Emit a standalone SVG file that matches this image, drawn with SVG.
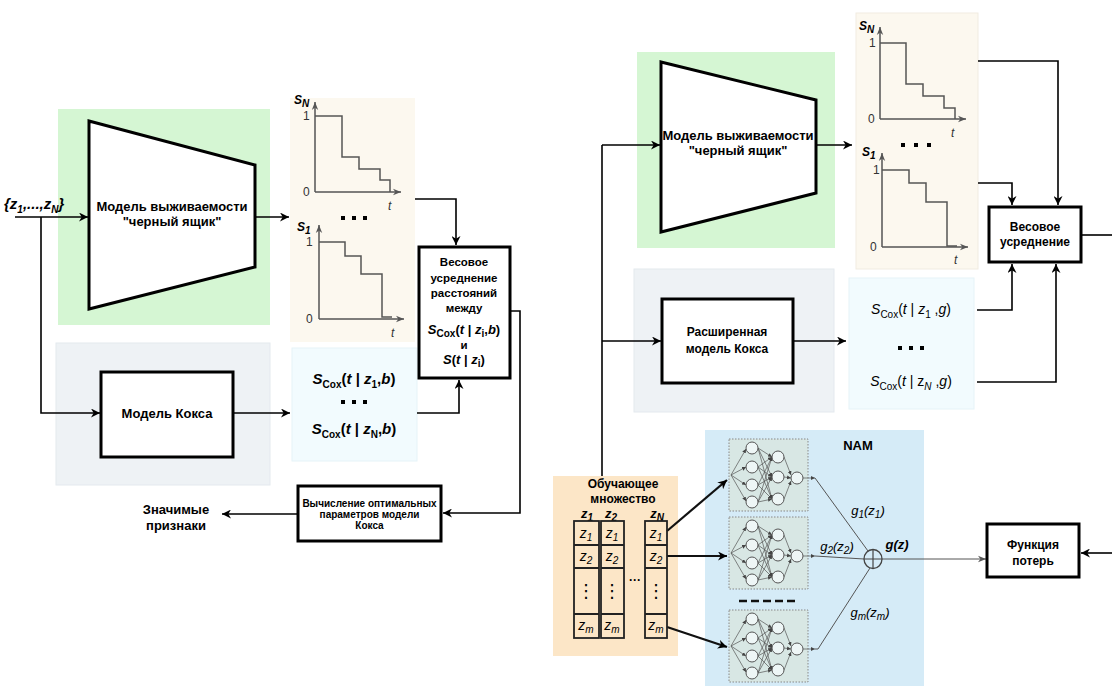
<svg xmlns="http://www.w3.org/2000/svg" xmlns:xlink="http://www.w3.org/1999/xlink" width="1112" height="686" viewBox="0 0 1112 686">
<style>
text{font-family:"Liberation Sans",Arial,sans-serif;fill:#000}
.b{font-weight:bold}
.i{font-style:italic}
.t13{font-size:13px}
.t12{font-size:12px}
.t11{font-size:11.5px}
.t10{font-size:10px}
.c{text-anchor:middle}
.sub{font-size:10px}
.box{fill:#fff;stroke:#000;stroke-width:3}
.trap{fill:#fff;stroke:#000;stroke-width:3;stroke-linejoin:miter}
.conn{fill:none;stroke:#000;stroke-width:1.6;marker-end:url(#arr)}
.line{fill:none;stroke:#000;stroke-width:1.6}
.thick{fill:none;stroke:#111;stroke-width:2.2;marker-end:url(#arr)}
.axis{fill:none;stroke:#555;stroke-width:1.5;marker-end:url(#parr)}
.step{fill:none;stroke:#555;stroke-width:1.5}
.dot{fill:#000}
.nnbox{fill:#d8e7e4;stroke:#888;stroke-width:1;stroke-dasharray:1.5 1.5}
.node{fill:#eef6f6;stroke:#555;stroke-width:1}
.edge{stroke:#555;stroke-width:0.7;fill:none}
.thin{fill:none;stroke:#555;stroke-width:1}
.cell{fill:none;stroke:#222;stroke-width:1.8}
.pl{font-size:12px;fill:#333}
.vd{font-family:"DejaVu Sans",sans-serif;font-size:18px;text-anchor:middle}
</style>
<defs>
<marker id="arr" viewBox="0 0 10 10" refX="10" refY="5" markerWidth="9" markerHeight="9" markerUnits="userSpaceOnUse" orient="auto">
<path d="M0,0 L10,5 L0,10 L3,5 z" fill="#000"/>
</marker>
<marker id="parr" viewBox="0 0 10 10" refX="10" refY="5" markerWidth="8" markerHeight="8" markerUnits="userSpaceOnUse" orient="auto">
<path d="M0,1 L10,5 L0,9 L3,5 z" fill="#555"/>
</marker>
<marker id="sarr" viewBox="0 0 10 10" refX="10" refY="5" markerWidth="4" markerHeight="4" markerUnits="userSpaceOnUse" orient="auto">
<path d="M0,0 L10,5 L0,10 z" fill="#444"/>
</marker>
<g id="nn">
<rect class="nnbox" x="0" y="0" width="79" height="72"/>
<g class="edge" marker-end="url(#sarr)">
<line x1="2" y1="36" x2="17" y2="10"/><line x1="2" y1="36" x2="17" y2="28"/><line x1="2" y1="36" x2="17" y2="46"/><line x1="2" y1="36" x2="17" y2="62"/>
<line x1="29" y1="9" x2="43" y2="18"/><line x1="29" y1="9" x2="43" y2="38"/><line x1="29" y1="9" x2="43" y2="60"/>
<line x1="29" y1="28" x2="43" y2="18"/><line x1="29" y1="28" x2="43" y2="38"/><line x1="29" y1="28" x2="43" y2="60"/>
<line x1="29" y1="46" x2="43" y2="18"/><line x1="29" y1="46" x2="43" y2="38"/><line x1="29" y1="46" x2="43" y2="60"/>
<line x1="29" y1="63" x2="43" y2="18"/><line x1="29" y1="63" x2="43" y2="38"/><line x1="29" y1="63" x2="43" y2="60"/>
<line x1="55" y1="18" x2="62" y2="36"/><line x1="55" y1="38" x2="62" y2="39"/><line x1="55" y1="60" x2="62" y2="42"/>
<line x1="74" y1="39" x2="86" y2="39"/>
</g>
<circle class="node" cx="23" cy="9" r="6"/><circle class="node" cx="23" cy="28" r="6"/><circle class="node" cx="23" cy="46" r="6"/><circle class="node" cx="23" cy="63" r="6"/>
<circle class="node" cx="49" cy="18" r="6"/><circle class="node" cx="49" cy="38" r="6"/><circle class="node" cx="49" cy="60" r="6"/>
<circle class="node" cx="68" cy="39" r="6"/>
</g>
</defs>
<rect width="1112" height="686" fill="#fff"/>

<!-- background panels -->
<g id="panels">
<rect x="58" y="109" width="212" height="216" fill="#d5f6d3"/>
<rect x="290" y="98" width="125" height="244" fill="#fcf8ef"/>
<rect x="56" y="343" width="214" height="142" fill="#eef2f5" stroke="#e4e9ee"/>
<rect x="292" y="348" width="125" height="113" fill="#f2fbfe" stroke="#e6f3f8"/>
<rect x="637" y="52" width="198" height="196" fill="#d5f6d3"/>
<rect x="856" y="13" width="122" height="256" fill="#fcf8ef" stroke="#f1ece1"/>
<rect x="634" y="269" width="200" height="143" fill="#eef2f5" stroke="#e4e9ee"/>
<rect x="849" y="278" width="125" height="131" fill="#f2fbfe" stroke="#e6f3f8"/>
<rect x="553" y="476" width="125" height="180" fill="#fce6c7"/>
<rect x="705" y="430" width="219" height="256" fill="#d5ebf7"/>
</g>

<!-- connectors -->
<g id="connectors">
<path class="conn" d="M15,217 H88"/>
<path class="conn" d="M41,217 V413 H100"/>
<path class="conn" d="M255,217 H289"/>
<path class="conn" d="M415,199 H456 V245"/>
<path class="conn" d="M233,413 H290"/>
<path class="conn" d="M417,413 H459 V380"/>
<path class="conn" d="M510,311 H520 V513 H443"/>
<path class="conn" d="M298,514 H222"/>

<path class="conn" d="M602,145 H660"/>
<path class="line" d="M602,145 V476"/>
<path class="conn" d="M602,341 H661"/>
<path class="conn" d="M816,145 H852"/>
<path class="conn" d="M978,61 H1058 V205"/>
<path class="conn" d="M978,183 H1012 V205"/>
<path class="conn" d="M977,310 H1012 V264"/>
<path class="conn" d="M977,382 H1056 V264"/>
<path class="line" d="M1081,235 H1112"/>
<path class="conn" d="M1112,553 H1081"/>
<path class="conn" d="M793,341 H846"/>
<path class="thick" d="M667,531 L727,480"/>
<path class="thick" d="M667,556 H727"/>
<path class="thick" d="M667,627 L727,647"/>
<path class="thin" d="M815,478 L868,551"/>
<path class="thin" d="M815,556 L864,559"/>
<path class="thin" d="M815,649 H818 L870,568"/>
<path class="thin" marker-end="url(#parr)" d="M882,559 H986"/>
</g>

<!-- left part -->
<g id="input-label">
<text x="4" y="209" class="b i" font-size="15">{z<tspan class="sub" dy="4">1</tspan><tspan dy="-4">,...,z</tspan><tspan class="sub" dy="4">N</tspan><tspan dy="-4">}</tspan></text>
</g>
<g id="blackbox-left">
<polygon class="trap" points="89,121 255,165 255,267 89,309"/>
<text x="172" y="211" class="b t13 c">Модель выживаемости</text>
<text x="172" y="226" class="b t13 c">"черный ящик"</text>
</g>
<g id="curves-left">
<path class="axis" d="M315,192 V102"/>
<path class="axis" d="M315,192 H401"/>
<path class="step" d="M315,116 H342 V157 H359 V169 H380 V180 H390 V192"/>
<text x="294" y="104" class="i b" font-size="12">S<tspan class="sub" dy="3">N</tspan></text>
<text x="303" y="120" class="pl">1</text>
<text x="303" y="196" class="pl">0</text>
<text x="388" y="210" class="pl i">t</text>
<rect class="dot" x="341" y="216" width="4" height="4"/><rect class="dot" x="352" y="216" width="4" height="4"/><rect class="dot" x="363" y="216" width="4" height="4"/>
<path class="axis" d="M319,319 V225"/>
<path class="axis" d="M319,319 H404"/>
<path class="step" d="M319,242 H345 V256 H361 V274 H382 V317 H392"/>
<text x="297" y="231" class="i b" font-size="12">S<tspan class="sub" dy="3">1</tspan></text>
<text x="306" y="246" class="pl">1</text>
<text x="306" y="323" class="pl">0</text>
<text x="391" y="337" class="pl i">t</text>
</g>
<g id="cox-left">
<rect class="box" x="101" y="372" width="132" height="85"/>
<text x="167" y="418" class="b t13 c">Модель Кокса</text>
</g>
<g id="cox-outputs-left">
<text x="354" y="384" class="c b" font-size="15"><tspan class="i">S</tspan><tspan class="sub" dy="4">Cox</tspan><tspan dy="-4">(</tspan><tspan class="i">t</tspan> | <tspan class="i">z</tspan><tspan class="sub" dy="4">1</tspan><tspan dy="-4">,</tspan><tspan class="i">b</tspan>)</text>
<rect class="dot" x="341" y="400" width="4" height="4"/><rect class="dot" x="352" y="400" width="4" height="4"/><rect class="dot" x="363" y="400" width="4" height="4"/>
<text x="354" y="434" class="c b" font-size="15"><tspan class="i">S</tspan><tspan class="sub" dy="4">Cox</tspan><tspan dy="-4">(</tspan><tspan class="i">t</tspan> | <tspan class="i">z</tspan><tspan class="sub" dy="4">N</tspan><tspan dy="-4">,</tspan><tspan class="i">b</tspan>)</text>
</g>
<g id="weighted-left">
<rect class="box" x="419" y="247" width="91" height="131"/>
<text x="464" y="266" class="b t11 c">Весовое</text>
<text x="464" y="282" class="b t11 c">усреднение</text>
<text x="464" y="297" class="b t11 c">расстояний</text>
<text x="464" y="312" class="b t11 c">между</text>
<text x="464" y="334" class="b c" font-size="13"><tspan class="i">S</tspan><tspan class="sub" dy="3">Cox</tspan><tspan dy="-3">(</tspan><tspan class="i">t</tspan> | <tspan class="i">z</tspan><tspan class="sub" dy="3">i</tspan><tspan dy="-3">,</tspan><tspan class="i">b</tspan>)</text>
<text x="464" y="349" class="b t11 c">и</text>
<text x="464" y="364" class="b c" font-size="13"><tspan class="i">S</tspan>(<tspan class="i">t</tspan> | <tspan class="i">z</tspan><tspan class="sub" dy="3">i</tspan><tspan dy="-3">)</tspan></text>
</g>
<g id="optimal-params">
<rect class="box" x="298" y="486" width="143" height="55"/>
<text x="369.5" y="507" class="b t10 c">Вычисление оптимальных</text>
<text x="369.5" y="518" class="b t10 c">параметров модели</text>
<text x="369.5" y="529" class="b t10 c">Кокса</text>
</g>
<g id="significant">
<text x="176" y="514" class="b c" font-size="13">Значимые</text>
<text x="176" y="530" class="b c" font-size="13">признаки</text>
</g>

<!-- right part -->
<g id="blackbox-right">
<polygon class="trap" points="661,62 816,100 816,193 661,232"/>
<text x="738" y="140" class="b t13 c">Модель выживаемости</text>
<text x="738" y="155" class="b t13 c">"черный ящик"</text>
</g>
<g id="curves-right">
<path class="axis" d="M880,119 V27"/>
<path class="axis" d="M880,119 H966"/>
<path class="step" d="M880,43 H906 V84 H923 V96 H944 V108 H955 V119"/>
<text x="859" y="30" class="i b" font-size="12">S<tspan class="sub" dy="3">N</tspan></text>
<text x="869" y="47" class="pl">1</text>
<text x="868" y="123" class="pl">0</text>
<text x="951" y="137" class="pl i">t</text>
<rect class="dot" x="901" y="143" width="4" height="4"/><rect class="dot" x="914" y="143" width="4" height="4"/><rect class="dot" x="927" y="143" width="4" height="4"/>
<path class="axis" d="M882,247 V153"/>
<path class="axis" d="M882,247 H968"/>
<path class="step" d="M882,170 H909 V183 H926 V202 H947 V246 H957"/>
<text x="862" y="156" class="i b" font-size="12">S<tspan class="sub" dy="3">1</tspan></text>
<text x="873" y="174" class="pl">1</text>
<text x="870" y="251" class="pl">0</text>
<text x="954" y="264" class="pl i">t</text>
</g>
<g id="weighted-right">
<rect class="box" x="989" y="207" width="92" height="55"/>
<text x="1035" y="231" class="b t12 c">Весовое</text>
<text x="1035" y="246" class="b t12 c">усреднение</text>
</g>
<g id="cox-extended">
<rect class="box" x="662" y="299" width="131" height="84"/>
<text x="727" y="336" class="b t12 c">Расширенная</text>
<text x="727" y="353" class="b t12 c">модель Кокса</text>
</g>
<g id="cox-outputs-right">
<text x="911" y="314" class="c" font-size="14"><tspan class="i">S</tspan><tspan class="sub" dy="4">Cox</tspan><tspan dy="-4">(</tspan><tspan class="i">t</tspan> | <tspan class="i">z</tspan><tspan class="sub" dy="4">1</tspan><tspan dy="-4"> ,</tspan><tspan class="i">g</tspan>)</text>
<rect class="dot" x="898" y="346" width="4" height="4"/><rect class="dot" x="909" y="346" width="4" height="4"/><rect class="dot" x="920" y="346" width="4" height="4"/>
<text x="911" y="386" class="c" font-size="14"><tspan class="i">S</tspan><tspan class="sub" dy="4">Cox</tspan><tspan dy="-4">(</tspan><tspan class="i">t</tspan> | z<tspan class="sub i" dy="4">N</tspan><tspan dy="-4"> ,</tspan><tspan class="i">g</tspan>)</text>
</g>
<g id="training-set">
<text x="623" y="488" class="b t12 c">Обучающее</text>
<text x="623" y="503" class="b t12 c">множество</text>
<text x="587" y="518" class="b i c" font-size="13">z<tspan class="sub" dy="3">1</tspan></text>
<text x="611" y="518" class="b i c" font-size="13">z<tspan class="sub" dy="3">2</tspan></text>
<text x="657" y="518" class="b i c" font-size="13">z<tspan class="sub" dy="3">N</tspan></text>
<rect class="cell" x="574" y="521" width="25" height="117"/>
<rect class="cell" x="601" y="521" width="23" height="117"/>
<rect class="cell" x="645" y="521" width="22" height="117"/>
<path class="cell" d="M574,545 H599 M574,568 H599 M574,614 H599 M601,545 H624 M601,568 H624 M601,614 H624 M645,545 H667 M645,568 H667 M645,614 H667"/>
<g class="i c" font-size="14">
<text x="586" y="538">z<tspan class="sub" dy="3">1</tspan></text>
<text x="612" y="538">z<tspan class="sub" dy="3">1</tspan></text>
<text x="656" y="538">z<tspan class="sub" dy="3">1</tspan></text>
<text x="586" y="561">z<tspan class="sub" dy="3">2</tspan></text>
<text x="612" y="561">z<tspan class="sub" dy="3">2</tspan></text>
<text x="656" y="561">z<tspan class="sub" dy="3">2</tspan></text>
<text x="586" y="630">z<tspan class="sub" dy="3">m</tspan></text>
<text x="612" y="630">z<tspan class="sub" dy="3">m</tspan></text>
<text x="656" y="630">z<tspan class="sub" dy="3">m</tspan></text>
</g>
<text x="586" y="597" class="vd">⋮</text>
<text x="612" y="597" class="vd">⋮</text>
<text x="656" y="597" class="vd">⋮</text>
<text x="635" y="584" class="b c" font-size="12">···</text>
</g>
<g id="nam">
<text x="858" y="450" class="b c" font-size="13">NAM</text>
<use href="#nn" xlink:href="#nn" x="729" y="439"/>
<use href="#nn" xlink:href="#nn" x="729" y="517"/>
<use href="#nn" xlink:href="#nn" x="729" y="610"/>
<path d="M739,601 h8 M751,601 h8 M763,601 h8 M775,601 h8 M787,601 h8" stroke="#111" stroke-width="2.5"/>
<ellipse cx="873" cy="559" rx="9" ry="9.5" fill="none" stroke="#444" stroke-width="1.3"/>
<path d="M873,549.5 V568.5 M864,559 H882" stroke="#444" stroke-width="1.2"/>
<text x="868" y="515" class="i c" font-size="13" fill="#222">g<tspan class="sub" dy="3">1</tspan><tspan dy="-3">(z</tspan><tspan class="sub" dy="3">1</tspan><tspan dy="-3">)</tspan></text>
<text x="837" y="551" class="i c" font-size="13" fill="#222">g<tspan class="sub" dy="3">2</tspan><tspan dy="-3">(z</tspan><tspan class="sub" dy="3">2</tspan><tspan dy="-3">)</tspan></text>
<text x="870" y="617" class="i c" font-size="13" fill="#222">g<tspan class="sub" dy="3">m</tspan><tspan dy="-3">(z</tspan><tspan class="sub" dy="3">m</tspan><tspan dy="-3">)</tspan></text>
<text x="897" y="549" class="b i c" font-size="13">g(z)</text>
</g>
<g id="loss">
<rect class="box" x="987" y="524" width="92" height="53"/>
<text x="1033" y="549" class="b t12 c">Функция</text>
<text x="1033" y="565" class="b t12 c">потерь</text>
</g>
</svg>
